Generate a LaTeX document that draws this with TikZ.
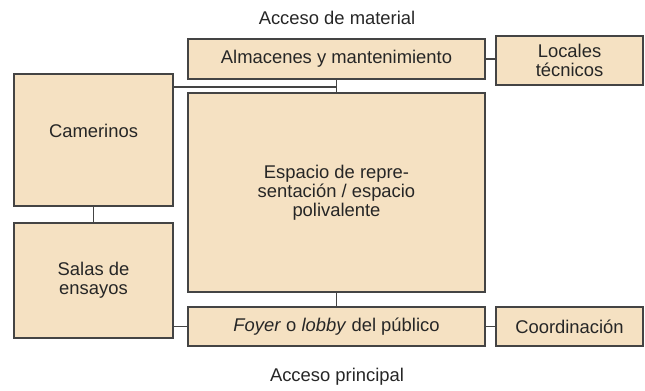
\documentclass[tikz,border=0pt]{standalone}
\usepackage{fontspec}
\setmainfont{Liberation Sans}
\definecolor{sala}{HTML}{F5E1C2}
\definecolor{borde}{HTML}{444444}
\tikzset{
  zona/.style={draw=borde, fill=sala, line width=1.1pt, align=center, inner sep=0pt},
  enlace/.style={draw=borde, line width=1.1pt},
  texto/.style={font=\fontsize{13.8}{14.25}\selectfont, text=black!85, align=center}
}
\begin{document}
\begin{tikzpicture}[x=0.75pt, y=-0.75pt, every node/.append style={texto}]
        \useasboundingbox (0,0) rectangle (645,390);

        % zonas
        \node[zona, minimum width=222.75pt, minimum height=30pt] (alm) at (336.5,59) {Almacenes y mantenimiento};
        \node[zona, minimum width=110.25pt, minimum height=36.75pt] (loc) at (569.5,60.5) {Locales\\técnicos};
        \node[zona, minimum width=119.25pt, minimum height=99pt] (cam) at (93.5,140) {};
        \node (camtxt) at (93.5,130.5) {Camerinos};
        \node[zona, minimum width=222.75pt, minimum height=149.25pt] (esp) at (336.5,192.5) {Espacio de repre-\\sentación / espacio\\polivalente};
        \node[zona, minimum width=119.25pt, minimum height=86.25pt] (sal) at (93.5,280.5) {Salas de\\ensayos};
        \node[zona, minimum width=222.75pt, minimum height=29.25pt] (foy) at (336.5,326.5) {\textit{Foyer} o \textit{lobby} del público};
        \node[zona, minimum width=110.25pt, minimum height=29.25pt] (coo) at (569.5,326.5) {Coordinación};

        % accesos
        \node (matl) at (337,18) {Acceso de material};
        \node (ppal) at (337,377) {Acceso principal};

        % enlaces
        \coordinate (junta) at (336.5,87);
        \draw[enlace] (alm.east) -- (alm.east -| loc.west);
        \draw[enlace] (alm.south) -- (esp.north);
        \draw[enlace] (junta) -- (junta -| cam.east);
        \draw[enlace] (cam.south) -- (sal.north);
        \draw[enlace] (esp.south) -- (foy.north);
        \draw[enlace] (foy.west) -- (foy.west -| sal.east);
        \draw[enlace] (foy.east) -- (coo.west);
    \end{tikzpicture}
\end{document}
